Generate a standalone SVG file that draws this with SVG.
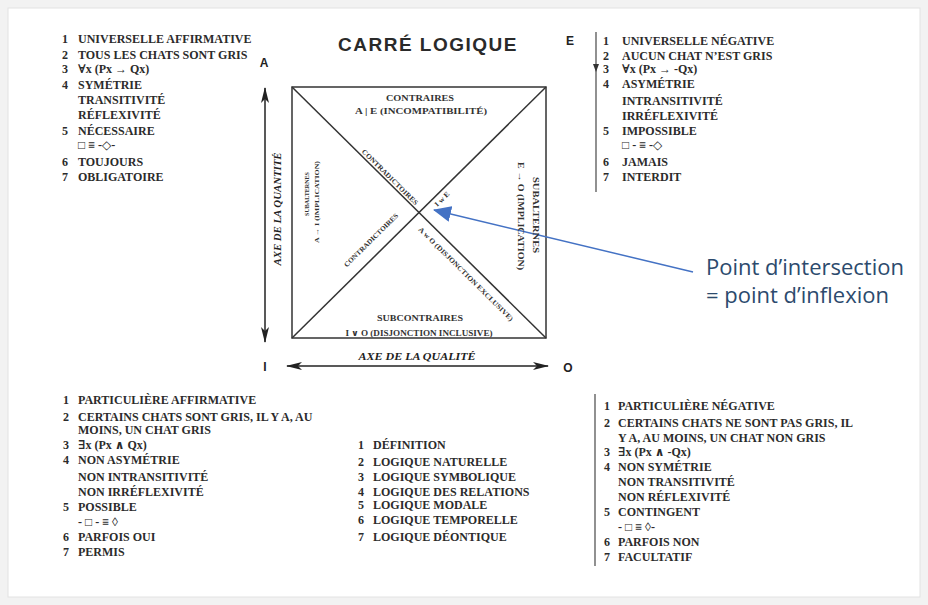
<svg xmlns="http://www.w3.org/2000/svg" width="928" height="605" viewBox="0 0 928 605">
<style>
.t{font-family:"Liberation Serif","DejaVu Serif",serif;font-weight:bold;font-size:12px;fill:#2b2b2b}
.m{font-size:12px}
.s{font-family:"Liberation Serif","DejaVu Serif",serif;font-weight:bold;font-size:8.5px;fill:#333}
.d{font-family:"Liberation Serif","DejaVu Serif",serif;font-weight:bold;font-size:7px;fill:#333}
.ax{font-family:"Liberation Serif","DejaVu Serif",serif;font-weight:bold;font-style:italic;font-size:10.5px;fill:#222}
.lt{font-family:"Liberation Sans","Arial",sans-serif;font-weight:bold;font-size:12px;fill:#222}
.ttl{font-family:"Liberation Sans","Arial",sans-serif;font-weight:bold;font-size:19px;letter-spacing:1.5px;fill:#2a2a2a}
.blue{font-family:"Open Sans","Noto Sans",sans-serif;font-size:22px;fill:#2c4a6d}
.ln{stroke:#333;stroke-width:1.5;fill:none}
</style>
<defs>
<marker id="ah" viewBox="0 0 16 8" refX="15" refY="4" markerWidth="16" markerHeight="8" markerUnits="userSpaceOnUse" orient="auto-start-reverse">
<path d="M0,0 L16,4 L0,8 L4,4 Z" fill="#222"/>
</marker>
<marker id="bh" viewBox="0 0 18 16" refX="17" refY="8" markerWidth="18" markerHeight="16" markerUnits="userSpaceOnUse" orient="auto">
<path d="M0,0 L18,8 L0,16 Z" fill="#4472c4"/>
</marker>
</defs>
<rect x="0" y="0" width="928" height="605" fill="#f2f2f2"/>
<rect x="8" y="8" width="912" height="589" fill="#ffffff" stroke="#e2e2e2"/>

<text class="ttl" x="428" y="51" text-anchor="middle">CARRÉ LOGIQUE</text>

<g id="corner-A"><text class="lt" x="264" y="67" text-anchor="middle">A</text></g>
<g id="corner-E"><text class="lt" x="570" y="45" text-anchor="middle">E</text></g>
<g id="corner-I"><text class="lt" x="265" y="371" text-anchor="middle">I</text></g>
<g id="corner-O"><text class="lt" x="568" y="372" text-anchor="middle">O</text></g>

<g id="square">
<rect x="292" y="87" width="254" height="251" class="ln"/>
</g>

<g id="connectors">
<line x1="292" y1="87" x2="546" y2="338" class="ln" stroke-width="1.3"/>
<line x1="292" y1="338" x2="546" y2="87" class="ln" stroke-width="1.3"/>
<line x1="265" y1="88" x2="265" y2="342" stroke="#222" stroke-width="1.5" marker-start="url(#ah)" marker-end="url(#ah)"/>
<line x1="287" y1="366" x2="548" y2="366" stroke="#222" stroke-width="1.5" marker-start="url(#ah)" marker-end="url(#ah)"/>
<line x1="596" y1="32" x2="596" y2="192" stroke="#555" stroke-width="1.3"/>
<path d="M593,64 L599,64 L596,72 Z" fill="#333"/>
<line x1="595" y1="394" x2="595" y2="566" stroke="#555" stroke-width="1.3"/>
<line x1="693" y1="272" x2="434" y2="210" stroke="#4472c4" stroke-width="1.5" marker-end="url(#bh)"/>
</g>

<g id="axis-labels">
<text class="ax" transform="translate(281,209) rotate(-90)" text-anchor="middle" textLength="113" lengthAdjust="spacingAndGlyphs">AXE DE LA QUANTITÉ</text>
<text class="ax" x="417" y="360" text-anchor="middle" textLength="117" lengthAdjust="spacingAndGlyphs">AXE DE LA QUALITÉ</text>
</g>

<g id="contraires">
<text class="s" x="420" y="101" text-anchor="middle" textLength="68" lengthAdjust="spacingAndGlyphs">CONTRAIRES</text>
<text class="s" x="421" y="114" text-anchor="middle" textLength="132" lengthAdjust="spacingAndGlyphs">A | E (INCOMPATIBILITÉ)</text>
</g>
<g id="subcontraires">
<text class="s" x="420" y="321" text-anchor="middle" textLength="86" lengthAdjust="spacingAndGlyphs">SUBCONTRAIRES</text>
<text class="s" x="419" y="336" text-anchor="middle" textLength="147" lengthAdjust="spacingAndGlyphs">I ∨ O (DISJONCTION INCLUSIVE)</text>
</g>
<g id="subalternes-left">
<text class="d" transform="translate(307,194) rotate(-90)" text-anchor="middle" dy="0.35em" textLength="44" lengthAdjust="spacingAndGlyphs">SUBALTERNES</text>
<text class="d" transform="translate(317,202) rotate(-90)" text-anchor="middle" dy="0.35em" textLength="82" lengthAdjust="spacingAndGlyphs">A → I (IMPLICATION)</text>
</g>
<g id="subalternes-right">
<text class="s" transform="translate(536,215) rotate(90)" text-anchor="middle" dy="0.35em" textLength="76" lengthAdjust="spacingAndGlyphs">SUBALTERNES</text>
<text class="s" transform="translate(521,216) rotate(90)" text-anchor="middle" dy="0.35em" textLength="108" lengthAdjust="spacingAndGlyphs">E → O (IMPLICATION)</text>
</g>
<g id="diagonal-labels">
<text class="d" transform="translate(390,177) rotate(44.7)" text-anchor="middle" dy="0.35em" textLength="76" lengthAdjust="spacingAndGlyphs">CONTRADICTOIRES</text>
<text class="d" transform="translate(442,199) rotate(-44.7)" text-anchor="middle" dy="0.35em" textLength="18" lengthAdjust="spacingAndGlyphs">I w E</text>
<text class="d" transform="translate(371,240) rotate(-44.7)" text-anchor="middle" dy="0.35em" textLength="73" lengthAdjust="spacingAndGlyphs">CONTRADICTOIRES</text>
<text class="d" transform="translate(466,274) rotate(44.7)" text-anchor="middle" dy="0.35em" textLength="130" lengthAdjust="spacingAndGlyphs">A w O (DISJONCTION EXCLUSIVE)</text>
</g>

<g id="block-A">
<text class="t" x="62" y="43">1</text><text class="t" x="78" y="43">UNIVERSELLE AFFIRMATIVE</text>
<text class="t" x="62" y="59">2</text><text class="t" x="78" y="59">TOUS LES CHATS SONT GRIS</text>
<text class="t" x="62" y="73">3</text><text class="t" x="78" y="73">∀x (Px → Qx)</text>
<text class="t" x="62" y="89">4</text><text class="t" x="78" y="89">SYMÉTRIE</text>
<text class="t" x="78" y="104">TRANSITIVITÉ</text>
<text class="t" x="78" y="119">RÉFLEXIVITÉ</text>
<text class="t" x="62" y="135">5</text><text class="t" x="78" y="135">NÉCESSAIRE</text>
<text class="t" x="78" y="149">□ ≡ -◇-</text>
<text class="t" x="62" y="166">6</text><text class="t" x="78" y="166">TOUJOURS</text>
<text class="t" x="62" y="181">7</text><text class="t" x="78" y="181">OBLIGATOIRE</text>
</g>

<g id="block-E">
<text class="t" x="603" y="45">1</text><text class="t" x="622" y="45">UNIVERSELLE NÉGATIVE</text>
<text class="t" x="603" y="60">2</text><text class="t" x="622" y="60">AUCUN CHAT N’EST GRIS</text>
<text class="t" x="603" y="73">3</text><text class="t" x="622" y="73">∀x (Px → -Qx)</text>
<text class="t" x="603" y="88">4</text><text class="t" x="622" y="88">ASYMÉTRIE</text>
<text class="t" x="622" y="105">INTRANSITIVITÉ</text>
<text class="t" x="622" y="120">IRRÉFLEXIVITÉ</text>
<text class="t" x="603" y="135">5</text><text class="t" x="622" y="135">IMPOSSIBLE</text>
<text class="t" x="622" y="149">□ - ≡ -◇</text>
<text class="t" x="603" y="166">6</text><text class="t" x="622" y="166">JAMAIS</text>
<text class="t" x="603" y="181">7</text><text class="t" x="622" y="181">INTERDIT</text>
</g>

<g id="block-I">
<text class="t" x="63" y="404">1</text><text class="t" x="78" y="404">PARTICULIÈRE AFFIRMATIVE</text>
<text class="t" x="63" y="421">2</text><text class="t" x="78" y="421">CERTAINS CHATS SONT GRIS, IL Y A, AU</text>
<text class="t" x="78" y="434">MOINS, UN CHAT GRIS</text>
<text class="t" x="63" y="449">3</text><text class="t" x="78" y="449">∃x (Px ∧ Qx)</text>
<text class="t" x="63" y="464">4</text><text class="t" x="78" y="464">NON ASYMÉTRIE</text>
<text class="t" x="78" y="481">NON INTRANSITIVITÉ</text>
<text class="t" x="78" y="496">NON IRRÉFLEXIVITÉ</text>
<text class="t" x="63" y="511">5</text><text class="t" x="78" y="511">POSSIBLE</text>
<text class="t" x="78" y="526">- □ - ≡ ◊</text>
<text class="t" x="63" y="541">6</text><text class="t" x="78" y="541">PARFOIS OUI</text>
<text class="t" x="63" y="556">7</text><text class="t" x="78" y="556">PERMIS</text>
</g>

<g id="block-middle">
<text class="t m" x="358" y="449">1</text><text class="t m" x="373" y="449">DÉFINITION</text>
<text class="t m" x="358" y="466">2</text><text class="t m" x="373" y="466">LOGIQUE NATURELLE</text>
<text class="t m" x="358" y="481">3</text><text class="t m" x="373" y="481">LOGIQUE SYMBOLIQUE</text>
<text class="t m" x="358" y="496">4</text><text class="t m" x="373" y="496">LOGIQUE DES RELATIONS</text>
<text class="t m" x="358" y="509">5</text><text class="t m" x="373" y="509">LOGIQUE MODALE</text>
<text class="t m" x="358" y="524">6</text><text class="t m" x="373" y="524">LOGIQUE TEMPORELLE</text>
<text class="t m" x="358" y="541">7</text><text class="t m" x="373" y="541">LOGIQUE DÉONTIQUE</text>
</g>

<g id="block-O">
<text class="t" x="604" y="410">1</text><text class="t" x="618" y="410">PARTICULIÈRE NÉGATIVE</text>
<text class="t" x="604" y="427">2</text><text class="t" x="618" y="427">CERTAINS CHATS NE SONT PAS GRIS, IL</text>
<text class="t" x="618" y="442">Y A, AU MOINS, UN CHAT NON GRIS</text>
<text class="t" x="604" y="456">3</text><text class="t" x="618" y="456">∃x (Px ∧ -Qx)</text>
<text class="t" x="604" y="471">4</text><text class="t" x="618" y="471">NON SYMÉTRIE</text>
<text class="t" x="618" y="486">NON TRANSITIVITÉ</text>
<text class="t" x="618" y="501">NON RÉFLEXIVITÉ</text>
<text class="t" x="604" y="516">5</text><text class="t" x="618" y="516">CONTINGENT</text>
<text class="t" x="618" y="531">- □ ≡ ◊-</text>
<text class="t" x="604" y="546">6</text><text class="t" x="618" y="546">PARFOIS NON</text>
<text class="t" x="604" y="561">7</text><text class="t" x="618" y="561">FACULTATIF</text>
</g>

<g id="annotation">
<text class="blue" x="706" y="275">Point d’intersection</text>
<text class="blue" x="706" y="303">= point d’inflexion</text>
</g>
</svg>
